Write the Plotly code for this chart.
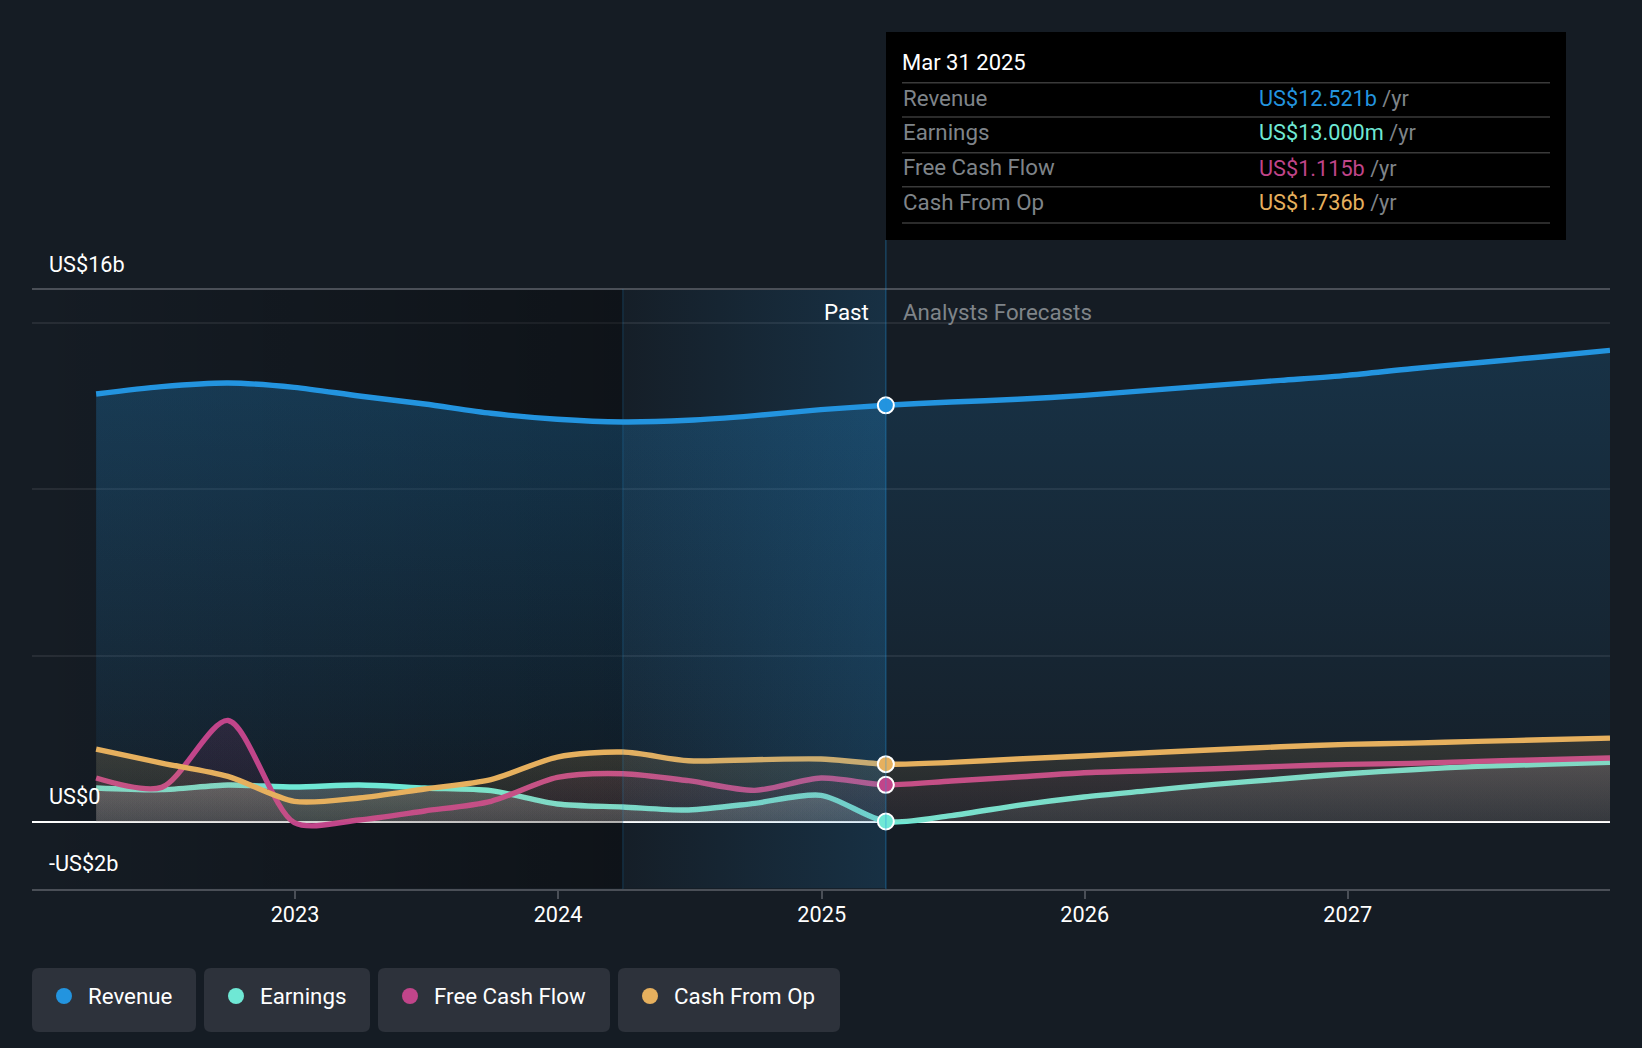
import plotly.graph_objects as go

W, H = 1642, 1048
BG = '#151c24'
GRID = '#272d35'
AXIS = '#4a4f57'
CHIP = '#2d323b'

# quarter ends, past then forecast
dates = [
    '2022-03-31', '2022-06-30', '2022-09-30', '2022-12-31',
    '2023-03-31', '2023-06-30', '2023-09-30', '2023-12-31',
    '2024-03-31', '2024-06-30', '2024-09-30', '2024-12-31', '2025-03-31',
    '2025-06-30', '2025-09-30', '2025-12-31',
    '2026-03-31', '2026-06-30', '2026-09-30', '2026-12-31',
    '2027-03-31', '2027-06-30', '2027-09-30', '2027-12-31',
]

# US$ billions
revenue = [12.86, 13.08, 13.19, 13.06, 12.80, 12.56, 12.28, 12.10, 12.02, 12.07, 12.21, 12.39, 12.521,
           12.62, 12.70, 12.82, 12.97, 13.12, 13.27, 13.42, 13.62, 13.80, 13.98, 14.17]
earnings = [1.02, 0.97, 1.11, 1.05, 1.11, 1.02, 0.94, 0.54, 0.45, 0.36, 0.56, 0.80, 0.013,
            0.19, 0.50, 0.75, 0.94, 1.13, 1.29, 1.45, 1.57, 1.67, 1.73, 1.79]
free_cash_flow = [1.32, 1.04, 3.05, -0.02, 0.06, 0.33, 0.62, 1.34, 1.45, 1.24, 0.95, 1.32, 1.115,
                  1.23, 1.35, 1.48, 1.54, 1.60, 1.67, 1.73, 1.76, 1.82, 1.87, 1.92]
cash_from_op = [2.19, 1.77, 1.37, 0.62, 0.72, 0.99, 1.27, 1.95, 2.10, 1.84, 1.87, 1.89, 1.736,
                1.79, 1.89, 1.98, 2.08, 2.17, 2.26, 2.33, 2.37, 2.42, 2.47, 2.52]

series_names = ['Revenue', 'Earnings', 'Free Cash Flow', 'Cash From Op']
series_values = [revenue, earnings, free_cash_flow, cash_from_op]
series_colors = ['#2394df', '#6fe8d5', '#c1458a', '#e6b05e']
fill_rgb = ['35,148,223', '205,225,220', '193,69,138', '230,176,94']
# (alpha at zero, alpha at series top), whole series then extra over the past
fill_alpha = [(0.02, 0.18), (0.10, 0.17), (0.03, 0.09), (0.05, 0.14)]
past_alpha = [(0.02, 0.12), (0.10, 0.20), (0.02, 0.05), (0.02, 0.05)]

tooltip_date = 'Mar 31 2025'
tooltip_values = ['US$12.521b', 'US$13.000m', 'US$1.115b', 'US$1.736b']

now_date = '2025-03-31'
band_start = '2024-03-31'
axis_start = '2022-01-01'
axis_end = '2027-12-31'
year_ticks = ['2023-01-01', '2024-01-01', '2025-01-01', '2026-01-01', '2027-01-01']
year_labels = ['2023', '2024', '2025', '2026', '2027']
y_label_values = [-2, 0, 16]
y_labels = ['-US$2b', 'US$0', 'US$16b']
y_grid = [-2, 0, 5, 10, 15, 16]


def px(x):
    return x / W


def py(y):
    return 1 - y / H


def rounded_rect(x0, y0, x1, y1, r=7):
    a, b, c, d = px(x0), py(y0), px(x1), py(y1)
    rx, ry = r / W, r / H
    return (f'M {a + rx} {b} L {c - rx} {b} Q {c} {b} {c} {b - ry} '
            f'L {c} {d + ry} Q {c} {d} {c - rx} {d} '
            f'L {a + rx} {d} Q {a} {d} {a} {d + ry} '
            f'L {a} {b - ry} Q {a} {b} {a + rx} {b} Z')


def text(x, y, s, color='#ffffff', anchor='left', size=22.3):
    return dict(xref='paper', yref='paper', x=px(x), y=py(y), text=s, showarrow=False,
                xanchor=anchor, yanchor='middle', borderpad=0,
                font=dict(family='Roboto', size=size, color=color))


def fill_scale(rgb, alpha):
    return [[0, f'rgba({rgb},{alpha[0]})'], [1, f'rgba({rgb},{alpha[1]})']]


fig = go.Figure()

# darkening towards the start of the last twelve months
fig.add_trace(go.Scatter(
    x=[axis_start, band_start, band_start, axis_start], y=[-2, -2, 16, 16],
    mode='none', fill='toself', hoverinfo='skip',
    fillgradient=dict(type='horizontal', colorscale=[[0, 'rgba(0,0,0,0)'], [1, 'rgba(0,0,0,0.32)']]),
))

now_i = dates.index(now_date)
for name, values, color, rgb, alpha, extra in zip(series_names, series_values, series_colors, fill_rgb,
                                                  fill_alpha, past_alpha):
    fig.add_trace(go.Scatter(
        x=dates[:now_i + 1], y=values[:now_i + 1], mode='none', hoverinfo='skip',
        line=dict(shape='spline', smoothing=0.8),
        fill='tozeroy',
        fillgradient=dict(type='vertical', start=0, stop=max(values), colorscale=fill_scale(rgb, extra)),
    ))
    fig.add_trace(go.Scatter(
        x=dates, y=values, name=name, mode='lines',
        line=dict(color=color, width=5.4, shape='spline', smoothing=0.8),
        fill='tozeroy', hoverinfo='skip',
        fillgradient=dict(type='vertical', start=0, stop=max(values), colorscale=fill_scale(rgb, alpha)),
    ))

# last twelve months band sits over the lines
fig.add_trace(go.Scatter(
    x=[band_start, now_date, now_date, band_start], y=[-2, -2, 16, 16],
    mode='none', fill='toself', hoverinfo='skip',
    fillgradient=dict(type='horizontal',
                      colorscale=[[0, 'rgba(35,148,223,0.02)'], [1, 'rgba(35,148,223,0.17)']]),
))

for values, color in zip(series_values, series_colors):
    fig.add_trace(go.Scatter(
        x=[now_date], y=[values[now_i]], mode='markers', hoverinfo='skip',
        marker=dict(size=16, color=color, line=dict(color='#ffffff', width=2)),
    ))

shapes = [
    dict(type='line', xref='x', yref='paper', x0=band_start, x1=band_start, y0=py(889), y1=py(289),
         line=dict(color='rgba(35,148,223,0.18)', width=1.5)),
    dict(type='line', xref='x', yref='paper', x0=now_date, x1=now_date, y0=py(889), y1=py(240),
         line=dict(color='rgba(35,148,223,0.32)', width=1.5)),
    # tooltip box
    dict(type='rect', xref='paper', yref='paper', x0=px(886), x1=px(1566), y0=py(240), y1=py(32),
         fillcolor='#000000', line=dict(width=0)),
]
for row_y in [82.7, 117, 152.7, 186.7, 223]:
    shapes.append(dict(type='line', xref='paper', yref='paper', x0=px(902), x1=px(1550), y0=py(row_y), y1=py(row_y),
                       line=dict(color='#3a3a3a', width=1.5)))

annotations = [
    text(901, 62, tooltip_date, size=22),
    text(870, 312, 'Past', anchor='right'),
    text(902, 312, 'Analysts Forecasts', color='#7f8489'),
]
for row_y, name, value, color in zip([98.7, 133, 168.5, 202.5], series_names, tooltip_values, series_colors):
    annotations.append(text(901.5, row_y - 1, name, color='#7f8489'))
    annotations.append(text(1257.5, row_y, f'<span style="color:{color}">{value}</span> /yr',
                            color='#7f8489', size=21.7))

for value, label in zip(y_label_values, y_labels):
    annotations.append(dict(xref='paper', yref='y', x=px(47.5), y=value, yshift=25, text=label, showarrow=False,
                            xanchor='left', yanchor='middle', borderpad=0,
                            font=dict(family='Roboto', size=21.7, color='#ffffff')))

# legend chips
chip_spans = [(32, 196), (204, 370), (378, 610), (618, 840)]
for (x0, x1), name, color in zip(chip_spans, series_names, series_colors):
    shapes.append(dict(type='path', xref='paper', yref='paper', path=rounded_rect(x0, 968, x1, 1032),
                       fillcolor=CHIP, line=dict(width=0)))
    shapes.append(dict(type='circle', xref='paper', yref='paper', x0=px(x0 + 24), x1=px(x0 + 40),
                       y0=py(1004), y1=py(988), fillcolor=color, line=dict(width=0)))
    annotations.append(text(x0 + 55, 996, name))

fig.update_layout(
    width=W, height=H, autosize=False,
    margin=dict(l=0, r=0, t=0, b=0),
    paper_bgcolor=BG, plot_bgcolor=BG,
    showlegend=False,
    font=dict(family='Roboto', color='#ffffff'),
    shapes=shapes, annotations=annotations,
    xaxis=dict(
        domain=[px(32), px(1610)], type='date', range=[axis_start, axis_end],
        tickvals=year_ticks, ticktext=year_labels, ticks='outside', ticklen=8, tickwidth=2,
        ticklabelstandoff=-3,
        tickcolor=AXIS, tickfont=dict(family='Roboto', size=21.7, color='#ffffff'),
        showgrid=False, zeroline=False, showline=True, linecolor=AXIS, linewidth=2, mirror=True,
    ),
    yaxis=dict(
        domain=[py(888.5), py(289.5)], range=[-2, 16],
        tickvals=y_grid, showticklabels=False,
        gridcolor=GRID, gridwidth=1.5, zeroline=True, zerolinecolor='#ffffff', zerolinewidth=2,
        showline=False,
    ),
)

fig.write_html('out.html', config=dict(displayModeBar=False),
               post_script="document.body.style.margin='0';document.body.style.background='" + BG + "';")
